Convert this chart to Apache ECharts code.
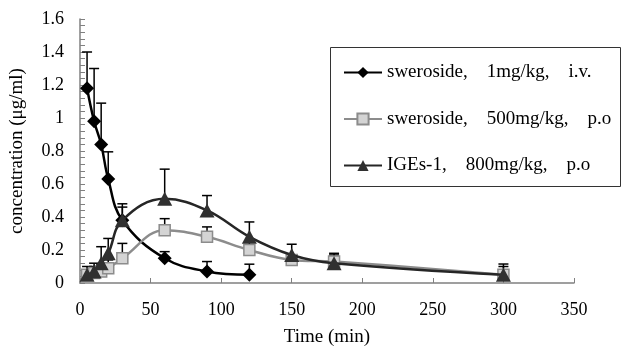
<!DOCTYPE html>
<html>
<head>
<meta charset="utf-8">
<script src="https://cdn.jsdelivr.net/npm/echarts@6/dist/echarts.min.js"></script>
<style>
  html, body { margin: 0; padding: 0; background: #fff; }
  #chart { width: 621px; height: 352px; }
</style>
</head>
<body>
<div id="chart"></div>
<script>
// time points (min)
var ivTimes = [5, 10, 15, 20, 30, 60, 90, 120];
var poTimes = [5, 10, 15, 20, 30, 60, 90, 120, 150, 180, 300];

// mean concentration (ug/ml)
var ivMean = [1.18, 0.98, 0.84, 0.63, 0.38, 0.15, 0.07, 0.05];
var swMean = [0.05, 0.06, 0.07, 0.09, 0.15, 0.32, 0.28, 0.20, 0.14, 0.13, 0.05];
var igMean = [0.05, 0.07, 0.12, 0.18, 0.38, 0.51, 0.44, 0.28, 0.17, 0.12, 0.05];

// SD (upper error bar)
var ivSd = [0.22, 0.32, 0.25, 0.165, 0.08, 0.04, 0.06, 0.064];
var swSd = [0.03, 0.04, 0.04, 0.05, 0.09, 0.07, 0.06, 0.05, 0.03, 0.04, 0.05];
var igSd = [0.05, 0.05, 0.10, 0.09, 0.10, 0.18, 0.09, 0.09, 0.065, 0.06, 0.065];

var seriesNames = [
  'sweroside,\u20031mg/kg,\u2003i.v.',
  'sweroside,\u2003500mg/kg,\u2003p.o',
  'IGEs-1,\u2003800mg/kg,\u2003p.o'
];

var FONT = 'Liberation Serif';

function pairs(xs, ys) {
  return xs.map(function (x, i) { return [x, ys[i]]; });
}
function errData(xs, ys, sd) {
  return xs.map(function (x, i) { return [x, ys[i], ys[i] + sd[i]]; });
}

function renderErr(params, api) {
  var p0 = api.coord([api.value(0), api.value(1)]);
  var p1 = api.coord([api.value(0), api.value(2)]);
  var st = { stroke: '#000', lineWidth: 1.5 };
  return {
    type: 'group',
    children: [
      { type: 'line', shape: { x1: p0[0], y1: p0[1], x2: p1[0], y2: p1[1] }, style: st },
      { type: 'line', shape: { x1: p1[0] - 5, y1: p1[1], x2: p1[0] + 5, y2: p1[1] }, style: st }
    ]
  };
}

var chart = echarts.init(document.getElementById('chart'));
chart.setOption({
  animation: false,
  textStyle: { fontFamily: FONT },
  grid: { left: 79, right: 47, top: 19, bottom: 61 },
  graphic: [{
    type: 'rect',
    shape: { x: 330.5, y: 47.5, width: 290, height: 139 },
    style: { fill: 'none', stroke: '#333', lineWidth: 1 },
    z: 10
  }],
  legend: {
    orient: 'vertical',
    left: 343,
    top: 63,
    padding: 0,
    itemWidth: 38,
    itemHeight: 14,
    itemGap: 27.5,
    data: seriesNames,
    textStyle: { fontFamily: FONT, fontSize: 19, color: '#000' }
  },
  xAxis: {
    type: 'value',
    min: 0,
    max: 350,
    interval: 50,
    name: 'Time (min)',
    nameLocation: 'middle',
    nameGap: 45,
    nameTextStyle: { fontFamily: FONT, fontSize: 19, color: '#000' },
    axisLine: { lineStyle: { color: '#808080', width: 1.5 } },
    axisTick: { inside: true, length: 5, lineStyle: { color: '#808080' } },
    axisLabel: { margin: 18, fontFamily: FONT, fontSize: 18, color: '#000' },
    splitLine: { show: false }
  },
  yAxis: {
    type: 'value',
    min: 0,
    max: 1.6,
    interval: 0.2,
    name: 'concentration (μg/ml)',
    nameLocation: 'middle',
    nameGap: 53,
    nameTextStyle: { fontFamily: FONT, fontSize: 19, color: '#000' },
    axisLine: { show: true, lineStyle: { color: '#808080', width: 1.5 } },
    axisTick: { show: true, inside: true, length: 5, lineStyle: { color: '#808080' } },
    minorTick: { show: true, splitNumber: 5, length: 5, lineStyle: { color: '#808080' } },
    axisLabel: { margin: 16, fontFamily: FONT, fontSize: 18, color: '#000' },
    splitLine: { show: false }
  },
  series: [
    {
      type: 'custom',
      renderItem: renderErr,
      data: errData(ivTimes, ivMean, ivSd),
      z: 1,
      silent: true
    },
    {
      type: 'custom',
      renderItem: renderErr,
      data: errData(poTimes, swMean, swSd),
      z: 1,
      silent: true
    },
    {
      type: 'custom',
      renderItem: renderErr,
      data: errData(poTimes, igMean, igSd),
      z: 1,
      silent: true
    },
    {
      name: seriesNames[0],
      type: 'line',
      smooth: 0.4,
      data: pairs(ivTimes, ivMean),
      symbol: 'diamond',
      symbolSize: [14, 14],
      itemStyle: { color: '#000' },
      lineStyle: { color: '#000', width: 2.5 },
      z: 2
    },
    {
      name: seriesNames[1],
      type: 'line',
      smooth: 0.4,
      data: pairs(poTimes, swMean),
      symbol: 'rect',
      symbolSize: 11,
      itemStyle: { color: '#d4d4d4', borderColor: '#8c8c8c', borderWidth: 1.5 },
      lineStyle: { color: '#8c8c8c', width: 2.5 },
      z: 3
    },
    {
      name: seriesNames[2],
      type: 'line',
      smooth: 0.4,
      data: pairs(poTimes, igMean),
      symbol: 'triangle',
      symbolSize: [15, 14],
      itemStyle: { color: '#303030' },
      lineStyle: { color: '#262626', width: 2.5 },
      z: 4
    }
  ]
});
</script>
</body>
</html>
